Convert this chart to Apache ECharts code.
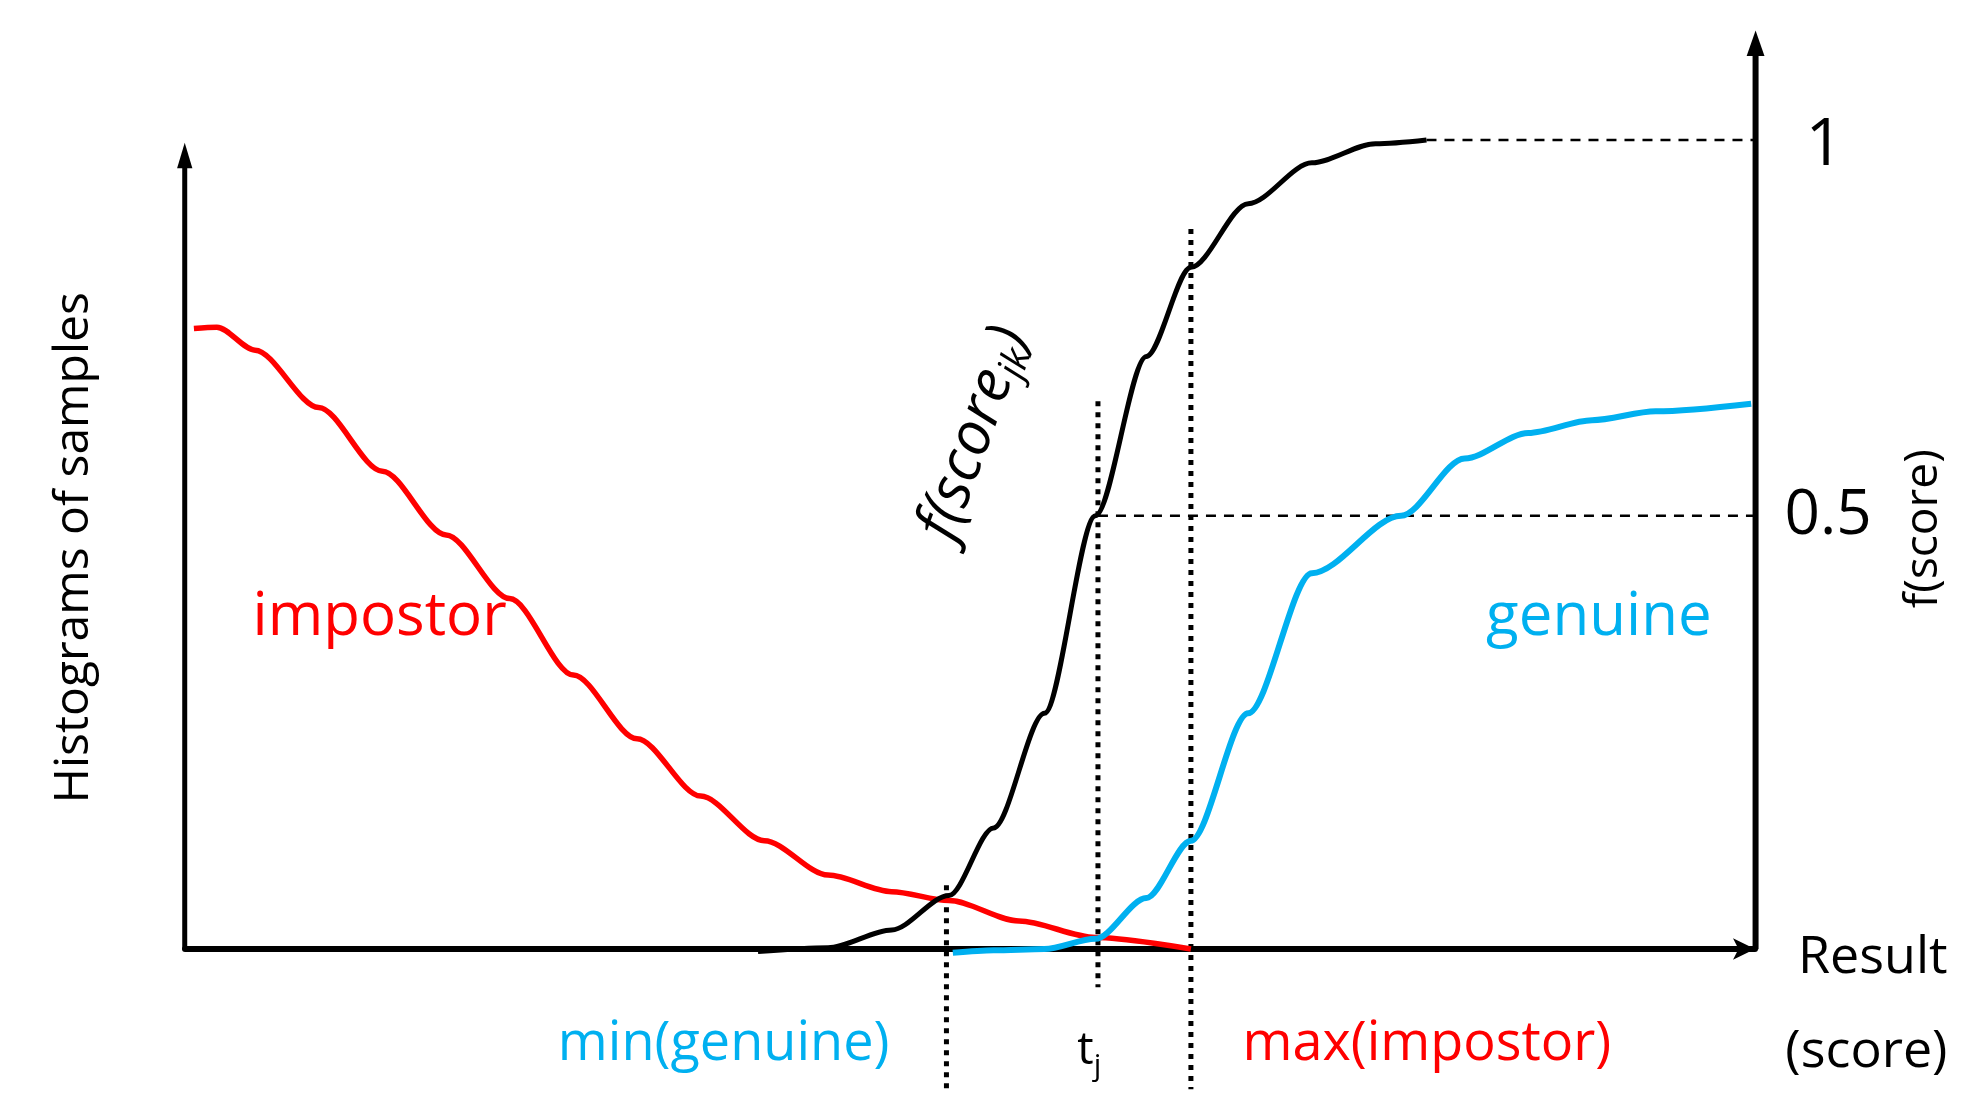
<!DOCTYPE html>
<html><head><meta charset="utf-8">
<script src="https://cdn.jsdelivr.net/npm/echarts@6/dist/echarts.min.js"></script>
<style>html,body{margin:0;padding:0;background:#fff}#c{width:1987px;height:1110px}</style>
</head><body><div id="c"></div>
<script>
// x: score units (0..1233), y: height units (0..715)
const impostor = [[7,487],[25,488],[55,470],[105,425],[155,375],[205,325],[255,275],[305,215],[355,165],[405,120],[455,85],[505,58],[555,45],[600,38],[655,22],[715,9],[790,0]];
const fscore = [[450,-2],[505,1],[555,15],[600,42],[635,95],[675,185],[715,340],[755,465],[790,535],[835,585],[885,617],[935,632],[975,635]];
const genuine = [[603,-3],[635,-1],[675,0],[715,8],[755,40],[790,85],[835,185],[885,295],[955,340],[1005,385],[1055,405],[1105,415],[1155,422],[1230,428]];
const level1 = [[975,635],[1233,635]];
const level05 = [[717,340],[1233,340]];
const vMinGenuine = [[598,50],[598,-110]];
const vTj = [[717,430],[717,-30]];
const vMaxImpostor = [[790,565],[790,-110]];
const s = 1.274;
const F = '"Open Sans", "Liberation Sans", sans-serif';
const chart = echarts.init(document.getElementById('c'));
function ln(data, color, w, type, smooth){return {type:'line',data,clip:false,smooth:smooth?0.3:false,smoothMonotone:'x',symbol:'none',lineStyle:{color,width:w,type:type||'solid'},z:type?2:3};}
function txt(x,y,t,color,size,rot){return {type:'text',x:x*s,y:y*s,rotation:rot||0,style:{text:t,fill:color,font:size+'px '+F,align:'center',verticalAlign:'middle'},z:10};}
chart.setOption({
  animation:false,
  grid:{left:185,right:232,top:38,bottom:161},
  xAxis:{type:'value',min:0,max:1233,axisLine:{onZero:false,lineStyle:{color:'#000',width:6},symbol:['none','arrow'],symbolSize:[16,22]},axisTick:{show:false},axisLabel:{show:false},splitLine:{show:false}},
  yAxis:{type:'value',min:0,max:715,axisLine:{show:false},axisTick:{show:false},axisLabel:{show:false},splitLine:{show:false}},
  series:[
    ln(vMinGenuine,'#000',5,[5,6]),
    ln(vTj,'#000',5,[5,6]),
    ln(vMaxImpostor,'#000',5,[5,6]),
    ln(level1,'#000',2.5,[10,8]),
    ln(level05,'#000',2.5,[10,8]),
    ln(impostor,'#ff0000',5.5,null,true),
    ln(fscore,'#000',5,null,true),
    ln(genuine,'#00b0f0',6,null,true)
  ],
  graphic:[
    {type:'line',shape:{x1:145*s,y1:745*s,x2:145*s,y2:122*s},style:{stroke:'#000',lineWidth:5},z:5},
    {type:'polygon',shape:{points:[[145*s,112*s],[139*s,132*s],[151*s,132*s]]},style:{fill:'#000'},z:5},
    {type:'line',shape:{x1:1378*s,y1:745*s,x2:1378*s,y2:38*s},style:{stroke:'#000',lineWidth:6},z:5},
    {type:'polygon',shape:{points:[[1378*s,24*s],[1371*s,44*s],[1385*s,44*s]]},style:{fill:'#000'},z:5},
    txt(1432,115,'1','#000',66),
    txt(1435,405,'0.5','#000',62),
    txt(1510,415,'f(score)','#000',46,Math.PI/2),
    txt(58,430,'Histograms of samples','#000',48,Math.PI/2),
    txt(298,485,'impostor','#ff0000',60),
    txt(1255,485,'genuine','#00b0f0',60),
    {type:'text',x:765*s,y:340*s,rotation:70*Math.PI/180,style:{rich:{a:{font:'italic 60px '+F,fill:'#000'},b:{font:'italic 38px '+F,fill:'#000',padding:[30,0,0,0]}},text:'{a|f(score}{b|jk}{a|)}',align:'center',verticalAlign:'middle'},z:10},
    txt(1470,752,'Result','#000',52),
    txt(1465,826,'(score)','#000',52),
    txt(568,820,'min(genuine)','#00b0f0',54),
    {type:'text',x:855*s,y:825*s,style:{rich:{a:{font:'46px '+F,fill:'#000'},b:{font:'30px '+F,fill:'#000',padding:[30,0,0,0]}},text:'{a|t}{b|j}',align:'center',verticalAlign:'middle'},z:10},
    txt(1120,820,'max(impostor)','#ff0000',54)
  ]
});
</script></body></html>
